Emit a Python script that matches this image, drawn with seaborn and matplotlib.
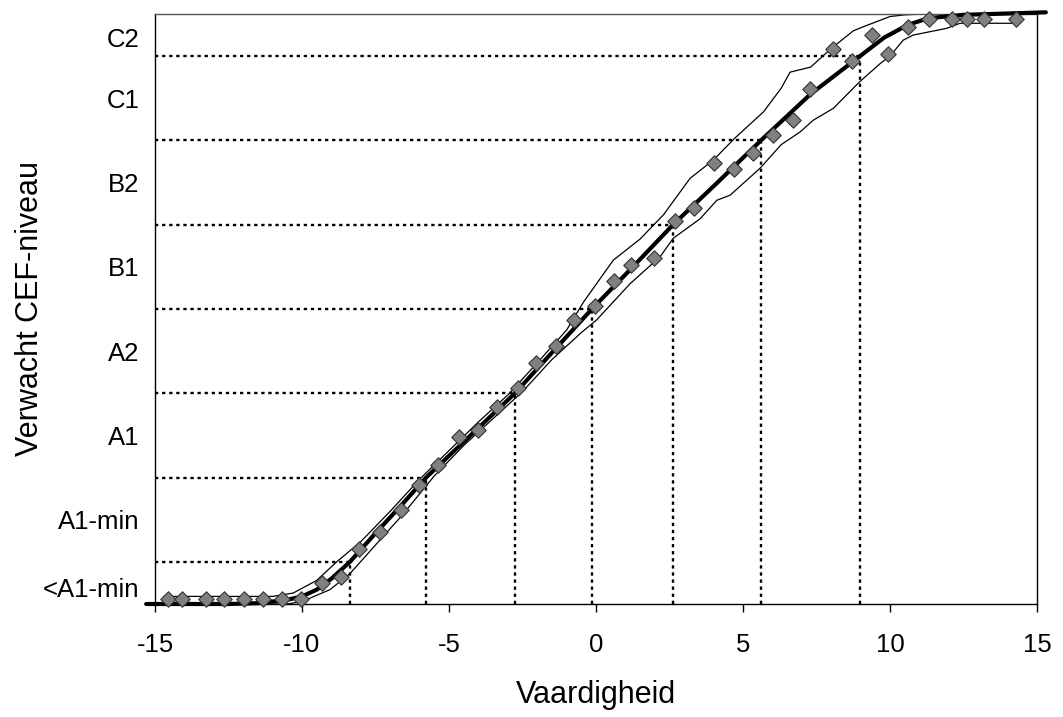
import matplotlib
matplotlib.use("Agg")
import matplotlib.pyplot as plt
import seaborn as sns
import pandas as pd

# ---- data ----
level_labels = ['<A1-min', 'A1-min', 'A1', 'A2', 'B1', 'B2', 'C1', 'C2']
level_label_pos = [0.2, 1.0, 2.0, 3.0, 4.0, 5.0, 6.0, 6.72]

cut_levels = [0.5, 1.5, 2.5, 3.5, 4.5, 5.5, 6.5]
cut_ability = [-8.37, -5.78, -2.76, -0.14, 2.62, 5.61, 8.98]

obs_ability = [-14.57, -14.09, -13.27, -12.65, -11.97, -11.34, -10.67, -10.03,
               -9.33, -8.67, -8.05, -7.33, -6.64, -6.01, -5.38, -4.66, -4.02,
               -3.38, -2.66, -2.04, -1.37, -0.75, -0.04, 0.61, 1.20, 1.97, 2.69,
               3.33, 4.01, 4.69, 5.33, 6.03, 6.71, 7.28, 8.07, 8.70, 9.38, 9.94,
               10.62, 11.33, 12.10, 12.61, 13.21, 14.29]
obs_level = [0.06, 0.06, 0.06, 0.06, 0.06, 0.06, 0.06, 0.06,
             0.25, 0.32, 0.65, 0.86, 1.11, 1.41, 1.65, 1.98, 2.07,
             2.34, 2.56, 2.86, 3.06, 3.37, 3.53, 3.83, 4.02, 4.11, 4.55,
             4.70, 5.23, 5.16, 5.35, 5.56, 5.74, 6.11, 6.59, 6.44, 6.75, 6.53,
             6.85, 6.94, 6.94, 6.94, 6.94, 6.94]

fit_ability = [-15.3, -12.5, -11.5, -11.0, -10.5, -10.0, -9.5, -9.0, -8.37, -7.5,
               -6.6, -5.78, -4.3, -2.76, -1.4, -0.14, 1.2, 2.62, 4.1, 5.61, 7.3,
               8.98, 9.8, 10.6, 11.3, 12.5, 15.3]
fit_level = [0.0, 0.0, 0.01, 0.03, 0.05, 0.09, 0.17, 0.3, 0.5, 0.84,
             1.18, 1.5, 1.99, 2.5, 3.02, 3.5, 3.98, 4.5, 4.99, 5.5, 6.05,
             6.5, 6.72, 6.87, 6.95, 6.99, 7.02]

upper_ability = [-14.7, -14.7, -11.0, -10.3, -9.5, -8.82, -8.0, -7.0, -6.0, -5.0,
                 -4.0, -3.0, -2.0, -1.0, -0.43, 0.59, 1.5, 2.3, 3.2, 4.0, 4.7,
                 5.7, 6.3, 6.6, 7.3, 8.0, 8.75, 9.1, 10.0, 10.5, 11.2, 14.42, 14.42]
upper_level = [0.0, 0.09, 0.09, 0.13, 0.28, 0.5, 0.74, 1.1, 1.48, 1.82,
               2.16, 2.48, 2.86, 3.25, 3.58, 4.08, 4.33, 4.62, 5.05, 5.27, 5.52,
               5.84, 6.12, 6.31, 6.37, 6.59, 6.8, 6.85, 6.97, 6.99, 7.0, 7.0, 6.89]

lower_ability = [-14.7, -10.5, -10.0, -9.05, -8.37, -7.5, -6.6, -5.5, -4.5, -3.5,
                 -2.5, -1.5, -0.5, 0.02, 1.16, 2.18, 2.63, 3.54, 4.11, 4.56, 5.58,
                 6.3, 6.94, 7.39, 8.07, 8.98, 9.66, 10.0, 10.45, 10.79, 11.93,
                 12.38, 14.42]
lower_level = [0.0, 0.0, 0.03, 0.17, 0.36, 0.7, 1.05, 1.52, 1.88, 2.2,
               2.52, 2.9, 3.22, 3.37, 3.8, 4.12, 4.34, 4.57, 4.79, 4.85, 5.17,
               5.45, 5.6, 5.74, 5.88, 6.2, 6.41, 6.5, 6.69, 6.75, 6.83,
               6.89, 6.89]

x_ticks = [-15, -10, -5, 0, 5, 10, 15]

# ---- styling ----
sns.set_style("white")
plt.rcParams['font.family'] = ['Liberation Sans', 'DejaVu Sans']
plt.rcParams['text.color'] = 'black'
plt.rcParams['axes.labelcolor'] = 'black'
plt.rcParams['xtick.color'] = 'black'
plt.rcParams['ytick.color'] = 'black'

fig = plt.figure(figsize=(10.63, 7.17), dpi=100)
ax = fig.add_axes([155 / 1063, 1 - 604 / 717, (1037 - 155) / 1063, (604 - 14) / 717])

dot = dict(color='black', linewidth=1.7, linestyle=(0, (1.4, 1.6)), zorder=1)
for lv, ab in zip(cut_levels, cut_ability):
    ax.plot([-15, ab], [lv, lv], **dot)
    ax.plot([ab, ab], [0, lv], **dot)

sns.lineplot(x=upper_ability, y=upper_level, sort=False, estimator=None,
             color='black', linewidth=0.9, ax=ax, zorder=2)
sns.lineplot(x=lower_ability, y=lower_level, sort=False, estimator=None,
             color='black', linewidth=0.9, ax=ax, zorder=2)
sns.lineplot(x=fit_ability, y=fit_level, sort=False, estimator=None,
             color='black', linewidth=3.0, ax=ax, zorder=3)
for ln in ax.lines[-1:]:
    ln.set_clip_on(False)

obs = pd.DataFrame({'ability': obs_ability, 'level': obs_level})
sns.scatterplot(data=obs, x='ability', y='level', marker='D', s=62,
                color='#808080', edgecolor='#333333', linewidth=0.8,
                ax=ax, zorder=4, clip_on=False)

ax.set_xlim(-15, 15)
ax.set_ylim(0, 7)
ax.set_xticks(x_ticks)
ax.set_xticklabels([str(t) for t in x_ticks])
ax.set_yticks(level_label_pos)
ax.set_yticklabels(level_labels)

ax.tick_params(axis='x', direction='out', length=6, width=1, color='black',
               labelcolor='black', pad=15, labelsize=18.5, bottom=True)
ax.tick_params(axis='y', length=0, pad=11, labelsize=18.5, labelcolor='black')

for name, sp in ax.spines.items():
    sp.set_visible(True)
    sp.set_color('#555555' if name == 'top' else 'black')
    sp.set_linewidth(1.0)

ax.set_xlabel('Vaardigheid', fontsize=22, color='black')
ax.set_ylabel('Verwacht CEF-niveau', fontsize=22, color='black')
ax.xaxis.set_label_coords(0.5, -0.154)
ax.xaxis.label.set_va('center')
ax.yaxis.set_label_coords(-0.1417, 0.5)
ax.yaxis.label.set_va('center')

fig.savefig('out.png', dpi=100)
